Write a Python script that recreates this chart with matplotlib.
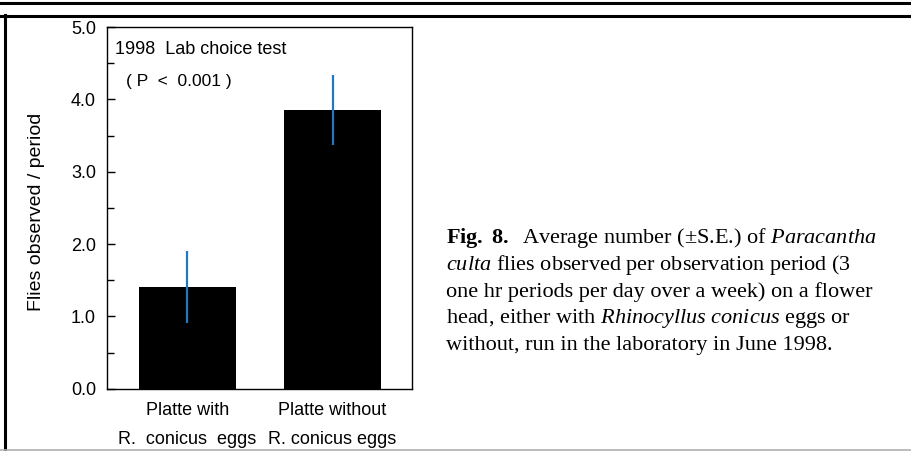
import matplotlib.pyplot as plt
from matplotlib.lines import Line2D

# data
groups = ["Platte with\nR.  conicus  eggs", "Platte without\nR. conicus eggs"]
means = [1.41, 3.85]
se = [0.50, 0.48]
yticks = [0.0, 1.0, 2.0, 3.0, 4.0, 5.0]

plt.rcParams['mathtext.fontset'] = 'custom'
plt.rcParams['mathtext.rm'] = 'Liberation Serif'
plt.rcParams['mathtext.it'] = 'Liberation Serif:italic'
plt.rcParams['mathtext.bf'] = 'Liberation Serif:bold'

fig = plt.figure(figsize=(9.11, 4.51), dpi=100)
ax = fig.add_axes([0.1175, 0.1381, 0.3348, 0.802])

x = range(len(groups))
ax.bar(x, means, width=0.67, color='black')
ax.errorbar(x, means, yerr=se, fmt='none', ecolor='#1f78c1', elinewidth=1.6, capsize=0)

ax.set_xlim(-0.553, 1.547)
ax.set_ylim(0, 5)
ax.set_yticks(yticks)
ax.set_yticklabels([f"{v:.1f}" for v in yticks], fontsize=13, family='Liberation Sans')
ax.set_yticks([0.5, 1.5, 2.5, 3.5, 4.5], minor=True)
ax.tick_params(axis='y', which='major', direction='in', length=6, width=1, pad=8)
ax.tick_params(axis='y', which='minor', direction='in', length=5, width=1)
ax.tick_params(axis='y', right=False)
ax.set_xticks(list(x))
ax.set_xticklabels(groups, fontsize=13, family='Liberation Sans', linespacing=1.9)
ax.tick_params(axis='x', length=0, pad=9.5)
for s in ax.spines.values():
    s.set_linewidth(1.0)

ax.set_ylabel("Flies observed / period", fontsize=14, family='Liberation Sans')
ax.yaxis.set_label_coords(-0.205, 0.49)

ax.text(0.026, 0.939, "1998  Lab choice test", transform=ax.transAxes,
        fontsize=13, family='Liberation Sans', va='center', ha='left')
ax.text(0.061, 0.848, "( P  <  0.001 )", transform=ax.transAxes,
        fontsize=12.5, family='Liberation Sans', va='center', ha='left')

caption = [
    r"$\mathbf{Fig.}$ $\mathbf{8.}$  Average number (±S.E.) of $\mathit{Paracantha}$",
    r"$\mathit{culta}$ flies observed per observation period (3",
    "one hr periods per day over a week) on a flower",
    r"head, either with $\mathit{Rhinocyllus\ conicus}$ eggs or",
    "without, run in the laboratory in June 1998.",
]
for i, line in enumerate(caption):
    fig.text(446 / 911, 1 - (238 + i * 26.8) / 451, line, fontsize=16,
             family='Liberation Serif', va='center', ha='left')

# page frame lines
fig.add_artist(Line2D([0, 1], [1 - 3 / 451, 1 - 3 / 451], color='black', lw=2.2))
fig.add_artist(Line2D([0, 1], [1 - 16 / 451, 1 - 16 / 451], color='black', lw=2.2))
fig.add_artist(Line2D([5 / 911, 5 / 911], [0, 1 - 15 / 451], color='black', lw=2.2))
fig.add_artist(Line2D([0, 1], [1.2 / 451, 1.2 / 451], color='#b0b0b0', lw=1.2))

fig.savefig("out.png", dpi=100)
